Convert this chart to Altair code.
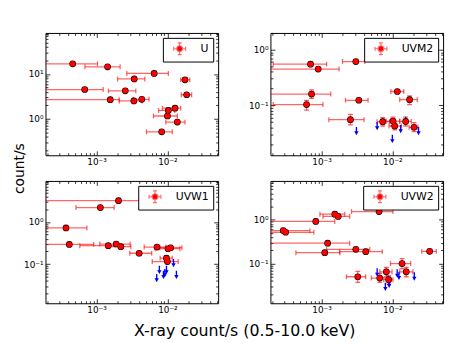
import altair as alt
import pandas as pd

FONT = "DejaVu Sans"

# ---------------- data ----------------
U_X = [4.6e-4, 1.43e-3, 6.5e-3, 3.4e-3, 1.77e-2, 6.8e-4, 2.54e-3, 1.87e-2,
       1.56e-3, 3.36e-3, 4.35e-3, 1.28e-2, 1.03e-2, 1.0e-2, 1.38e-2, 8.3e-3]
U_Y = [16.9, 14.5, 10.3, 7.76, 7.4, 4.5, 4.2, 3.44, 2.67, 2.5, 2.72, 1.72,
       1.53, 1.15, 0.84, 0.51]
U_XLO = [1e-4, 6.85e-4, 2.67e-3, 1.98e-3, 1.54e-2, 1e-4, 1.47e-3, 1.57e-2,
         1e-4, 2.1e-3, 3.3e-3, 8.5e-3, 7.5e-3, 6.35e-3, 9.5e-3, 5.06e-3]
U_XHI = [1.03e-3, 2.15e-3, 1.03e-2, 4.8e-3, 2.07e-2, 1.24e-3, 3.58e-3, 2.2e-2,
         2.08e-3, 4.4e-3, 5.5e-3, 1.54e-2, 1.27e-2, 1.38e-2, 1.77e-2, 1.17e-2]
U_YLO = [None] * 16
U_YHI = [None] * 16
U_AX = []
U_AY = []

M2_X = [7.0e-4, 8.98e-4, 3.05e-3, 7.23e-4, 6.15e-4, 1.175e-2, 3.36e-3, 1.75e-2,
        2.56e-3, 7.31e-3, 1.02e-2, 1.08e-2, 1.54e-2, 2.02e-2]
M2_Y = [0.549, 0.448, 0.612, 0.159, 0.103, 0.177, 0.123, 0.126, 0.055, 0.0506,
        0.052, 0.0424, 0.0513, 0.0402]
M2_XLO = [2.08e-4, 1e-4, 1.98e-3, 1e-4, 2.08e-4, 9.5e-3, 2.18e-3, 1.27e-2,
          1.27e-3, 6.08e-3, 8.2e-3, 8.97e-3, 1.27e-2, 1.72e-2]
M2_XHI = [1.18e-3, 1.77e-3, 4.07e-3, 1.35e-3, 1.05e-3, 1.45e-2, 4.54e-3, 2.25e-2,
          3.99e-3, 9.16e-3, 1.27e-2, 1.34e-2, 1.85e-2, 2.3e-2]
M2_YLO = [None, None, None, 0.133, 0.0815, 0.168, None, 0.103, 0.0442, 0.0424,
          0.0424, 0.036, 0.0424, 0.0336]
M2_YHI = [None, None, None, 0.19, 0.123, 0.188, None, 0.148, 0.0683, 0.0596,
          0.0612, 0.0499, 0.0612, 0.0486]
M2_AX = [3.11e-3, 6.1e-3, 1.0e-2, 1.31e-2, 1.54e-2, 2.34e-2]
M2_AY = [0.0407, 0.05, 0.0294, 0.0442, 0.062, 0.0407]

W1_X = [2.04e-3, 1.13e-3, 3.7e-4, 4.12e-4, 1.46e-3, 1.89e-3, 2.2e-3, 3.99e-3,
        7.13e-3, 1.02e-2, 1.11e-2, 9.7e-3, 1.0e-2]
W1_Y = [3.22, 2.21, 0.723, 0.294, 0.274, 0.3, 0.259, 0.181, 0.254, 0.232,
        0.245, 0.138, 0.115]
W1_XLO = [1e-4, 5.12e-4, 1e-4, 1e-4, 5.8e-4, 1.11e-3, 1.51e-3, 2.94e-3,
          4.7e-3, 6.7e-3, 7.8e-3, 7.9e-3, 6.1e-3]
W1_XHI = [5e-3, 1.77e-3, 7.3e-4, 9.1e-4, 2.09e-3, 2.98e-3, 3.05e-3, 6.0e-3,
          9.5e-3, 1.5e-2, 1.6e-2, 1.17e-2, 1.42e-2]
W1_YLO = [None] * 11 + [0.125, 0.103]
W1_YHI = [None] * 11 + [0.152, 0.128]
W1_AX = [7.06e-3, 7.7e-3, 8.8e-3, 9.2e-3, 9.7e-3, 1.22e-2, 1.34e-2]
W1_AY = [0.0583, 0.091, 0.0697, 0.0764, 0.091, 0.133, 0.0697]

W2_X = [6.49e-3, 1.54e-3, 1.72e-3, 8.3e-4, 2.88e-4, 3.11e-4, 1.22e-3, 3.05e-3,
        4.21e-3, 1.11e-3, 3.36e-2, 1.37e-2, 3.25e-3, 8.22e-3, 6.64e-3, 8.87e-3,
        1.57e-2]
W2_Y = [1.54, 1.34, 1.19, 0.917, 0.565, 0.518, 0.292, 0.211, 0.187, 0.177,
        0.19, 0.1, 0.05, 0.0649, 0.0467, 0.0428, 0.0649]
W2_XLO = [2.65e-3, 9.5e-4, 1.05e-3, 1e-4, 1e-4, 1e-4, 1e-4, 1.18e-3, 1.81e-3,
          4.35e-4, 2.6e-2, 9.4e-3, 2.25e-3, 6.64e-3, 5.06e-3, 7.55e-3, 1.27e-2]
W2_XHI = [1.02e-2, 2.13e-3, 2.5e-3, 1.54e-3, 6.86e-4, 7.8e-4, 2.5e-3, 4.8e-3,
          7.2e-3, 1.81e-3, 4.17e-2, 1.81e-2, 4.2e-3, 9.9e-3, 8.69e-3, 1.02e-2,
          1.95e-2]
W2_YLO = [None] * 10 + [0.175, 0.077, 0.0373, 0.05, 0.0373, 0.0342, 0.05]
W2_YHI = [None] * 10 + [0.205, 0.13, 0.066, 0.0813, 0.0595, 0.0527, 0.0813]
W2_AX = [6.1e-3, 7.96e-3, 9.0e-3, 1.17e-2, 1.24e-2, 2.04e-2]
W2_AY = [0.078, 0.0367, 0.043, 0.074, 0.065, 0.063]

X_DOMAIN = [1.9e-4, 5.2e-2]
Y_DOMAIN_U = [0.152, 83]
Y_DOMAIN_M2 = [0.0126, 2.0]
Y_DOMAIN_W1 = [0.0117, 9.5]
Y_DOMAIN_W2 = [0.0124, 7.7]

TICK_MULT = [1, 2, 3, 4, 5, 6, 7, 8, 9]
X_DECADES = [1e-4, 1e-3, 1e-2]
Y_DECADES_U = [0.1, 1, 10]
Y_DECADES_UV = [0.01, 0.1, 1]

X_TITLE = "X-ray count/s (0.5-10.0 keV)"
Y_TITLE = "count/s"

# ---------------- styling helpers ----------------
EXP = "round(log(datum.value)/LN10)"
MAJOR = f"abs(log(datum.value)/LN10 - {EXP}) < 0.01"
SUP = {-3: "⁻³", -2: "⁻²", -1: "⁻¹", 0: "⁰", 1: "¹"}
_lab = "''"
for k, v in SUP.items():
    _lab = f"{EXP} == {k} ? '10{v}' : ({_lab})"
LABEL_EXPR = f"({MAJOR}) ? ({_lab}) : ''"
TICK_SIZE = {"condition": {"test": MAJOR, "value": -4.5}, "value": -2.5}

ARROW = "M-0.17,0 L0.17,0 L0.17,1.1 L0.55,1.1 L0,2.1 L-0.55,1.1 L-0.17,1.1 Z"
LEGEND_SYMBOL = ("M-0.5,0 A0.5,0.5 0 1,0 0.5,0 A0.5,0.5 0 1,0 -0.5,0 Z "
                 "M-1,0 L-0.5,0 M0.5,0 L1,0 M-1,-0.33 L-1,0.33 M1,-0.33 L1,0.33 "
                 "M0,-1 L0,-0.5 M0,0.5 L0,1 M-0.33,-1 L0.33,-1 M-0.33,1 L0.33,1")

ERR_COLOR = "#ff0000"
ERR_OPACITY = 0.6


def ticks(decades, dom):
    out = []
    for d in decades:
        for m in TICK_MULT:
            v = round(m * d, 12)
            if dom[0] <= v <= dom[1]:
                out.append(v)
    return out


def make_axis(values, orient, show_labels, **extra):
    kw = dict(values=values, orient=orient, labels=show_labels, domain=False,
              grid=False, ticks=True, tickColor="black", tickWidth=0.8,
              tickSize=TICK_SIZE, title=None)
    if show_labels:
        kw.update(labelExpr=LABEL_EXPR, labelFont=FONT, labelFontSize=9,
                  labelColor="black", labelPadding=7, labelOverlap=False,
                  labelFlush=False)
    kw.update(extra)
    return alt.Axis(**kw)


def make_panel(name, xs, ys, xlo, xhi, ylo, yhi, ax, ay, ydom, ydec, titles=False):
    df = pd.DataFrame({"x": xs, "y": ys, "xlo": xlo, "xhi": xhi,
                       "ylo": ylo, "yhi": yhi, "band": name})
    adf = pd.DataFrame({"x": ax, "y": ay}) if ax else pd.DataFrame({"x": [], "y": []})
    xsc = alt.Scale(type="log", domain=X_DOMAIN, nice=False)
    ysc = alt.Scale(type="log", domain=ydom, nice=False)
    xt = ticks(X_DECADES, X_DOMAIN)
    yt = ticks(ydec, ydom)

    xextra, yextra = {}, {}
    if titles:
        xextra = dict(title=X_TITLE, titleX=201.5, titleY=33, titleFont=FONT,
                      titleFontSize=16, titleFontWeight="normal", titleColor="black",
                      titleBaseline="alphabetic", titleAlign="center")
        yextra = dict(title=Y_TITLE, titleX=-22, titleY=-13, titleFont=FONT,
                      titleFontSize=14, titleFontWeight="normal", titleColor="black",
                      titleBaseline="alphabetic", titleAlign="center", titleAngle=270)

    base = alt.Chart(df)
    errx = base.mark_rule(color=ERR_COLOR, opacity=ERR_OPACITY, strokeWidth=1.3, clip=True).encode(
        x=alt.X("xlo:Q", scale=xsc, axis=make_axis(xt, "bottom", True, **xextra)),
        x2="xhi:Q",
        y=alt.Y("y:Q", scale=ysc, axis=make_axis(yt, "left", True, **yextra)),
    )
    capx = base.transform_fold(["xlo", "xhi"], as_=["end", "xv"]).mark_tick(
        color=ERR_COLOR, opacity=ERR_OPACITY, orient="vertical", size=5,
        thickness=1.3, clip=True).encode(
        x=alt.X("xv:Q", scale=xsc, axis=None),
        y=alt.Y("y:Q", scale=ysc, axis=None),
    )
    yb = base.transform_filter("isValid(datum.ylo)")
    erry = yb.mark_rule(color=ERR_COLOR, opacity=ERR_OPACITY, strokeWidth=1.3, clip=True).encode(
        x=alt.X("x:Q", scale=xsc, axis=None),
        y=alt.Y("ylo:Q", scale=ysc, axis=None),
        y2="yhi:Q",
    )
    capy = yb.transform_fold(["ylo", "yhi"], as_=["end", "yv"]).mark_tick(
        color=ERR_COLOR, opacity=ERR_OPACITY, orient="horizontal", size=5,
        thickness=1.3, clip=True).encode(
        x=alt.X("x:Q", scale=xsc, axis=None),
        y=alt.Y("yv:Q", scale=ysc, axis=None),
    )
    arrows = alt.Chart(adf).mark_point(shape=ARROW, filled=True, color="#0000ff",
                                       size=64, opacity=1, clip=True).encode(
        x=alt.X("x:Q", scale=xsc, axis=None),
        y=alt.Y("y:Q", scale=ysc, axis=None),
    )
    outline = base.mark_circle(color="black", size=46, opacity=1).encode(
        x=alt.X("x:Q", scale=xsc, axis=None),
        y=alt.Y("y:Q", scale=ysc, axis=None),
    )
    pts = base.mark_point(filled=True, size=31, opacity=1).encode(
        x=alt.X("x:Q", scale=xsc, axis=make_axis(xt, "top", False)),
        y=alt.Y("y:Q", scale=ysc, axis=make_axis(yt, "right", False)),
        fill=alt.Fill("band:N", scale=alt.Scale(range=["#ff0000"]),
                      legend=alt.Legend(title=None, orient="top-right", offset=5,
                                        padding=4, strokeColor="black",
                                        fillColor="white", cornerRadius=0,
                                        symbolType=LEGEND_SYMBOL, symbolSize=144,
                                        symbolStrokeColor="#ff6a6a",
                                        symbolStrokeWidth=1.2, symbolOpacity=1,
                                        symbolOffset=6, labelOffset=14,
                                        labelFont=FONT, labelFontSize=11,
                                        labelColor="black")),
    )
    return alt.layer(errx, capx, erry, capy, arrows, outline, pts).resolve_axis(
        x="independent", y="independent").properties(width=175, height=124)


p_u = make_panel("U", U_X, U_Y, U_XLO, U_XHI, U_YLO, U_YHI, U_AX, U_AY,
                 Y_DOMAIN_U, Y_DECADES_U)
p_m2 = make_panel("UVM2", M2_X, M2_Y, M2_XLO, M2_XHI, M2_YLO, M2_YHI, M2_AX, M2_AY,
                  Y_DOMAIN_M2, Y_DECADES_UV)
p_w1 = make_panel("UVW1", W1_X, W1_Y, W1_XLO, W1_XHI, W1_YLO, W1_YHI, W1_AX, W1_AY,
                  Y_DOMAIN_W1, Y_DECADES_UV, titles=True)
p_w2 = make_panel("UVW2", W2_X, W2_Y, W2_XLO, W2_XHI, W2_YLO, W2_YHI, W2_AX, W2_AY,
                  Y_DOMAIN_W2, Y_DECADES_UV)

chart = alt.concat(p_u, p_m2, p_w1, p_w2, columns=2,
                   spacing={"row": 26, "column": 53}, bounds="flush").resolve_scale(
    x="independent", y="independent", fill="independent").resolve_legend(
    fill="independent").properties(
    padding={"left": 4, "top": 18, "right": 5, "bottom": 2},
    background="white",
).configure_view(stroke="black", strokeWidth=1)

chart.save("out.html", embed_options={"renderer": "svg", "actions": False})
